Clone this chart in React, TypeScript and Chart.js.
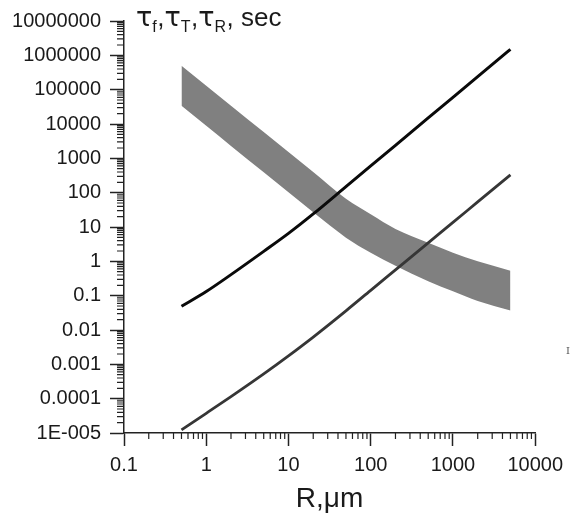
import { useEffect, useRef } from 'react';
import { Chart, registerables } from 'chart.js';

Chart.register(...registerables);

// ---- data ----
const radii = [0.5, 1, 2, 5, 10, 20, 50, 100, 200, 500, 1000, 2000, 5000];
const tauUpperLine = [0.049, 0.132, 0.41, 1.95, 6.5, 24, 150, 600, 2400, 15000, 60000, 240000, 1.5e6];
const tauLowerLine = [1.24e-5, 3.75e-5, 1.15e-4, 5.28e-4, 1.77e-3, 6.24e-3, 0.0362, 0.143, 0.564, 3.46, 13.6, 53.8, 330];
const bandTop = [5.0e5, 1.3e5, 3.4e4, 5800, 1517, 397, 66, 23.4, 8.75, 3.5, 1.79, 1.01, 0.536];
const bandBottom = [3.4e4, 8900, 2300, 390, 102, 26.7, 4.9, 1.79, 0.74, 0.265, 0.134, 0.0695, 0.0367];

const xTickValues = [0.1, 1, 10, 100, 1000, 10000];
const xTickLabels = ['0.1', '1', '10', '100', '1000', '10000'];
const yTickValues = [1e-5, 1e-4, 1e-3, 1e-2, 1e-1, 1, 10, 100, 1000, 1e4, 1e5, 1e6, 1e7];
const yTickLabels = ['1E-005', '0.0001', '0.001', '0.01', '0.1', '1', '10', '100', '1000', '10000', '100000', '1000000', '10000000'];
const minorMultipliers = [2, 3, 4, 5, 6, 7, 8, 9];
const xTitle = 'R,\u03bcm';
const yTitleParts: { t: string; sub: boolean }[] = [
  { t: '\u03c4', sub: false },
  { t: 'f', sub: true },
  { t: ',', sub: false },
  { t: '\u03c4', sub: false },
  { t: 'T', sub: true },
  { t: ',', sub: false },
  { t: '\u03c4', sub: false },
  { t: 'R', sub: true },
  { t: ', sec', sub: false },
];

const FONT = '"Liberation Sans", Arial, sans-serif';
const AXIS = '#222';
const TEXT = '#1a1a1a';

const toXY = (ys: number[]) => ys.map((y, i) => ({ x: radii[i], y }));

const minorTicksPlugin = {
  id: 'minorTicks',
  afterDraw(chart: any) {
    const { ctx } = chart;
    const xs = chart.scales.x;
    const ys = chart.scales.y;
    ctx.save();
    ctx.strokeStyle = AXIS;
    ctx.lineWidth = 1.2;
    ctx.beginPath();
    for (let i = 0; i < xTickValues.length - 1; i++) {
      for (const m of minorMultipliers) {
        const px = xs.getPixelForValue(xTickValues[i] * m);
        ctx.moveTo(px, xs.top);
        ctx.lineTo(px, xs.top + 6);
      }
    }
    for (let i = 0; i < yTickValues.length - 1; i++) {
      for (const m of minorMultipliers) {
        const py = ys.getPixelForValue(yTickValues[i] * m);
        ctx.moveTo(ys.right, py);
        ctx.lineTo(ys.right - 7, py);
      }
    }
    ctx.stroke();
    ctx.restore();
  },
};

const yTitlePlugin = {
  id: 'yTitle',
  afterDraw(chart: any) {
    const { ctx, chartArea } = chart;
    ctx.save();
    ctx.fillStyle = TEXT;
    ctx.textBaseline = 'alphabetic';
    ctx.textAlign = 'left';
    let x = chartArea.left + 12;
    const base = 26;
    for (const p of yTitleParts) {
      if (p.sub) ctx.font = `16px ${FONT}`;
      else if (p.t === '\u03c4') ctx.font = `27px "DejaVu Sans", ${FONT}`;
      else ctx.font = `26px ${FONT}`;
      ctx.fillText(p.t, x, p.sub ? base + 6 : base);
      x += ctx.measureText(p.t).width + (p.sub ? 0.5 : 0);
    }
    // small stray mark at right edge of the reference
    ctx.font = '10px "DejaVu Serif", serif';
    ctx.fillStyle = '#555';
    ctx.fillText('I', 566, 354);
    ctx.restore();
  },
};

export default function App() {
  const canvasRef = useRef<HTMLCanvasElement | null>(null);

  useEffect(() => {
    if (!canvasRef.current) return;
    const chart = new Chart(canvasRef.current, {
      type: 'line',
      data: {
        datasets: [
          {
            label: 'upper',
            data: toXY(tauUpperLine),
            borderColor: '#0a0a0a',
            borderWidth: 3,
            pointRadius: 0,
            fill: false,
            cubicInterpolationMode: 'monotone',
          },
          {
            label: 'lower',
            data: toXY(tauLowerLine),
            borderColor: '#363636',
            borderWidth: 2.8,
            pointRadius: 0,
            fill: false,
            cubicInterpolationMode: 'monotone',
          },
          {
            label: 'bandTop',
            data: toXY(bandTop),
            borderColor: '#808080',
            borderWidth: 0,
            pointRadius: 0,
            backgroundColor: '#808080',
            fill: '+1',
            cubicInterpolationMode: 'monotone',
          },
          {
            label: 'bandBottom',
            data: toXY(bandBottom),
            borderColor: '#808080',
            borderWidth: 0,
            pointRadius: 0,
            fill: false,
            cubicInterpolationMode: 'monotone',
          },
        ],
      },
      options: {
        responsive: false,
        animation: false,
        devicePixelRatio: 1,
        layout: { padding: { left: 0, top: 20, right: 32, bottom: 0 } },
        plugins: { legend: { display: false }, tooltip: { enabled: false } },
        scales: {
          x: {
            type: 'logarithmic',
            min: 0.1,
            max: 10000,
            afterBuildTicks: (scale: any) => {
              scale.ticks = xTickValues.map((v) => ({ value: v, major: true }));
            },
            afterFit: (scale: any) => {
              scale.height = 80;
            },
            grid: {
              drawOnChartArea: false,
              drawTicks: true,
              tickLength: 13,
              tickColor: AXIS,
              tickWidth: 1.5,
            },
            border: { display: true, color: AXIS, width: 1.5 },
            ticks: {
              autoSkip: false,
              maxRotation: 0,
              padding: 7,
              color: TEXT,
              font: { family: FONT, size: 20 },
              callback: (_v: any, i: number) => xTickLabels[i],
            },
            title: {
              display: true,
              text: xTitle,
              color: TEXT,
              font: { family: FONT, size: 28, lineHeight: 1 },
              padding: { top: 0, bottom: 0 },
            },
          },
          y: {
            type: 'logarithmic',
            min: 1e-5,
            max: 1e7,
            afterBuildTicks: (scale: any) => {
              scale.ticks = yTickValues.map((v) => ({ value: v, major: true }));
            },
            afterFit: (scale: any) => {
              scale.width = 124;
            },
            grid: {
              drawOnChartArea: false,
              drawTicks: true,
              tickLength: 14,
              tickColor: AXIS,
              tickWidth: 1.5,
            },
            border: { display: true, color: AXIS, width: 1.5 },
            ticks: {
              autoSkip: false,
              padding: 9,
              color: TEXT,
              font: { family: FONT, size: 20 },
              callback: (_v: any, i: number) => yTickLabels[i],
            },
          },
        },
      },
      plugins: [minorTicksPlugin, yTitlePlugin],
    } as any);
    return () => chart.destroy();
  }, []);

  return (
    <div style={{ position: 'absolute', left: 0, top: 0, width: 570, height: 513, background: '#fff' }}>
      <canvas ref={canvasRef} width={570} height={513} style={{ width: 570, height: 513, display: 'block' }} />
    </div>
  );
}
